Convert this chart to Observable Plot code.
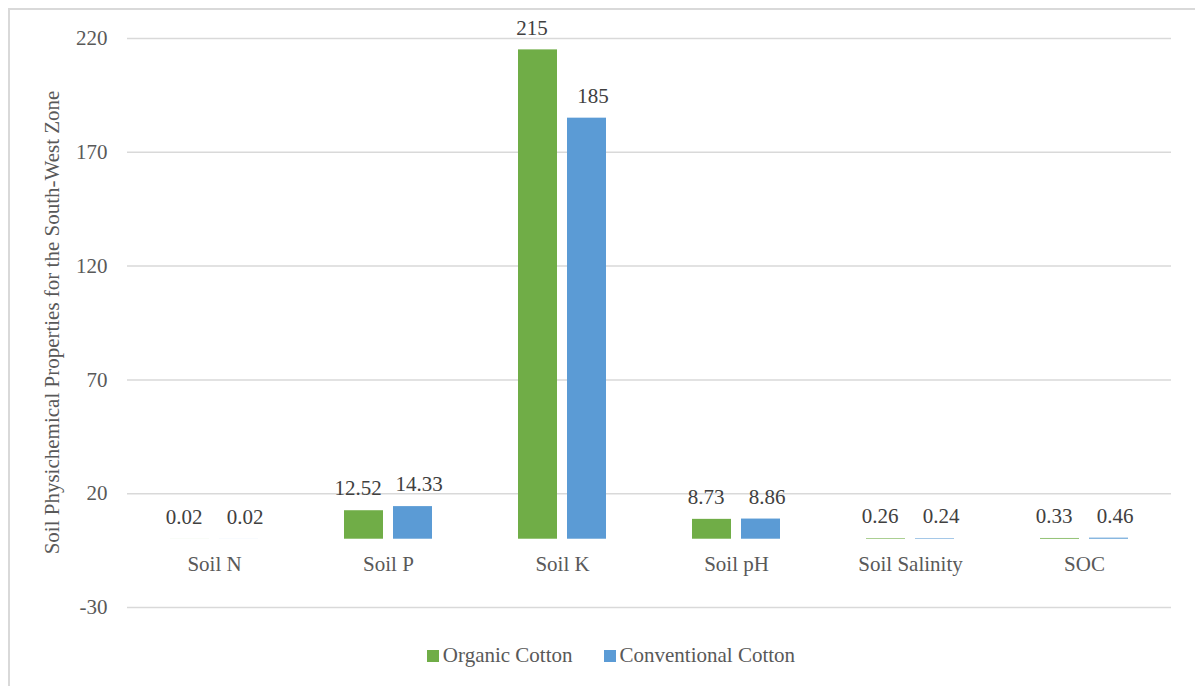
<!DOCTYPE html>
<html>
<head>
<meta charset="utf-8">
<script src="https://cdn.jsdelivr.net/npm/d3@7"></script>
<script src="https://cdn.jsdelivr.net/npm/@observablehq/plot@0.6"></script>
<style>
  body { margin: 0; background: #fff; }
  #wrap { position: relative; width: 1195px; height: 686px; overflow: hidden; font-family: "Liberation Serif", "Times New Roman", serif; }
  #border { position: absolute; left: 8px; top: 8px; width: 1200px; height: 700px; border-left: 2px solid #d9d9d9; border-top: 2px solid #d9d9d9; box-sizing: border-box; }
  #chart { position: absolute; left: 0; top: 0; }
  #chart svg, #chart svg text { font-family: "Liberation Serif", "Times New Roman", serif !important; }
  #legend { position: absolute; top: 643px; left: 0; width: 1222px; display: flex; justify-content: center; gap: 31px; font-size: 21px; color: #595959; }
  #legend span.item { display: flex; align-items: center; }
  #legend span.sw { display: inline-block; width: 12px; height: 12px; margin-right: 4px; }
</style>
</head>
<body>
<div id="wrap">
  <div id="border"></div>
  <div id="chart"></div>
  <div id="legend"></div>
</div>
<script>
const categories = ["Soil N", "Soil P", "Soil K", "Soil pH", "Soil Salinity", "SOC"];
const seriesNames = ["Organic Cotton", "Conventional Cotton"];
const organic = [0.02, 12.52, 215, 8.73, 0.26, 0.33];
const conventional = [0.02, 14.33, 185, 8.86, 0.24, 0.46];
const organicLabels = ["0.02", "12.52", "215", "8.73", "0.26", "0.33"];
const conventionalLabels = ["0.02", "14.33", "185", "8.86", "0.24", "0.46"];
const yTicks = [-30, 20, 70, 120, 170, 220];
const colors = ["#70AD47", "#5B9BD5"];

const data = [];
categories.forEach((c, i) => {
  data.push({category: c, series: seriesNames[0], value: organic[i], label: organicLabels[i]});
  data.push({category: c, series: seriesNames[1], value: conventional[i], label: conventionalLabels[i]});
});
const orgData = data.filter(d => d.series === seriesNames[0]);
const convData = data.filter(d => d.series === seriesNames[1]);

const textColor = "#595959";
const fs = 21;
const plot = Plot.plot({
  width: 1195,
  height: 620,
  marginTop: 38,
  marginBottom: 13,
  marginLeft: 125,
  marginRight: 22,
  style: { fontFamily: "'Liberation Serif', 'Times New Roman', serif", fontSize: fs + "px", color: textColor, background: "transparent" },
  fx: { domain: categories, padding: 0, axis: null },
  x: { domain: seriesNames, paddingInner: 0.2, paddingOuter: 0.85, axis: null },
  y: { domain: [-30, 220], ticks: yTicks, label: null },
  color: { domain: seriesNames, range: colors },
  marks: [
    Plot.gridY(yTicks, { stroke: "#d9d9d9", strokeOpacity: 1, strokeWidth: 1.5 }),
    Plot.axisY(yTicks, { tickSize: 0, tickPadding: 20, fontSize: fs, fill: textColor, label: null, tickFormat: d => String(d) }),
    Plot.barY(data, { fx: "category", x: "series", y: "value", fill: "series" }),
    Plot.text(orgData, { fx: "category", x: "series", y: "value", text: "label", dy: -22, dx: -6, fill: "#404040", fontSize: fs }),
    Plot.text(convData, { fx: "category", x: "series", y: "value", text: "label", dy: -22, dx: 6, fill: "#404040", fontSize: fs }),
    Plot.text(categories, { fx: d => d, y: () => 0, text: d => d, dy: 25, fill: textColor, fontSize: fs })
  ]
});
document.getElementById("chart").appendChild(plot);

// y-axis title
const svg = d3.select(plot);
svg.append("text")
  .attr("transform", `translate(54, ${(38 + 607) / 2}) rotate(-90)`)
  .attr("text-anchor", "middle")
  .attr("dominant-baseline", "middle")
  .attr("fill", textColor)
  .attr("font-size", fs)
  .text("Soil Physichemical Properties for the South-West Zone");

const legend = document.getElementById("legend");
seriesNames.forEach((s, i) => {
  const item = document.createElement("span");
  item.className = "item";
  item.innerHTML = `<span class="sw" style="background:${colors[i]}"></span>${s}`;
  legend.appendChild(item);
});
</script>
</body>
</html>
